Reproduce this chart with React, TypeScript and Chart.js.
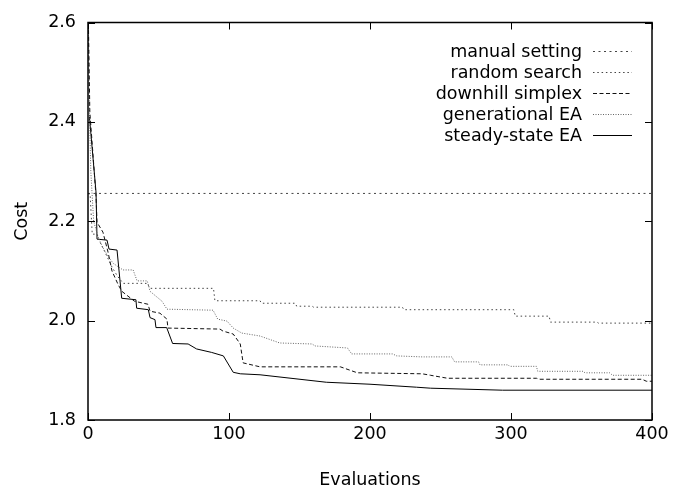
import React, { useEffect, useRef } from 'react';
import { Chart, registerables } from 'chart.js';

Chart.register(...registerables);

// ---- data ----
const xTicks = [0, 100, 200, 300, 400];
const yTicks = [1.8, 2.0, 2.2, 2.4, 2.6];
const seriesLabels = ['manual setting', 'random search', 'downhill simplex', 'generational EA', 'steady-state EA'];

const manualEvals = [0, 400];
const manualCosts = [2.256, 2.256];

const randomEvals = [0, 1.5, 3, 6.4, 8.5, 12, 17, 21, 25, 42, 44, 89, 90, 122, 123, 147, 148, 159, 160, 223, 224, 302, 303, 327, 328, 361, 362, 400];
const randomCosts = [2.256, 2.254, 2.174, 2.174, 2.158, 2.138, 2.108, 2.089, 2.075, 2.075, 2.065, 2.065, 2.04, 2.04, 2.035, 2.035, 2.029, 2.029, 2.027, 2.027, 2.022, 2.022, 2.009, 2.009, 1.997, 1.997, 1.995, 1.995];

const simplexEvals = [0, 1.3, 5.7, 6.4, 10.6, 14.2, 17, 21.3, 24, 33, 42.5, 44, 51, 56, 56.7, 93.6, 95.7, 103, 108, 110, 122, 179, 191, 237, 243, 255, 318, 320.5, 393, 396, 400];
const simplexCosts = [2.65, 2.42, 2.25, 2.198, 2.178, 2.138, 2.1, 2.073, 2.059, 2.039, 2.033, 2.019, 2.015, 2.003, 1.985, 1.983, 1.979, 1.973, 1.953, 1.915, 1.907, 1.907, 1.895, 1.893, 1.89, 1.884, 1.884, 1.882, 1.882, 1.878, 1.878];

const genEvals = [0, 0.8, 2, 4, 7, 10, 14, 18, 24.8, 32, 34.8, 42, 44, 52.5, 56, 88.7, 92, 98.6, 103, 109, 122, 136, 159, 161, 184, 187, 216, 219, 237, 258, 260, 277, 278, 298, 299, 318, 319, 351, 352.5, 370, 372, 400];
const genCosts = [2.65, 2.45, 2.3, 2.2, 2.17, 2.15, 2.13, 2.115, 2.102, 2.102, 2.08, 2.08, 2.059, 2.039, 2.023, 2.021, 2.003, 1.999, 1.985, 1.975, 1.969, 1.955, 1.953, 1.949, 1.945, 1.933, 1.933, 1.929, 1.927, 1.927, 1.917, 1.917, 1.911, 1.911, 1.908, 1.908, 1.898, 1.898, 1.895, 1.895, 1.89, 1.89];

const ssEvals = [1, 5.7, 6.4, 13.5, 14.9, 20.6, 23.9, 34, 34.5, 42.8, 44, 47.5, 48.2, 55.8, 60, 71, 77, 87.7, 96, 103, 108, 122, 169, 200, 233, 243, 294, 400];
const ssCosts = [2.41, 2.258, 2.164, 2.162, 2.144, 2.142, 2.045, 2.042, 2.025, 2.022, 2.006, 2.002, 1.986, 1.986, 1.954, 1.953, 1.943, 1.936, 1.929, 1.896, 1.893, 1.891, 1.876, 1.872, 1.866, 1.864, 1.86, 1.86];

const FONT_FAMILY = '"DejaVu Sans", sans-serif';
const FONT_SIZE = 17.5;

const toPoints = (xs: number[], ys: number[]) => xs.map((x, i) => ({ x, y: ys[i] }));

const framePlugin = {
  id: 'gnuFrame',
  afterDraw(chart: any) {
    const { ctx, chartArea } = chart;
    const { left, right, top, bottom } = chartArea;
    const xs = chart.scales.x;
    const ys = chart.scales.y;
    const tl = 7;
    ctx.save();
    ctx.strokeStyle = '#000';
    ctx.lineWidth = 1;
    ctx.setLineDash([]);
    ctx.beginPath();
    xTicks.forEach((v) => {
      const px = Math.round(xs.getPixelForValue(v)) + 0.5;
      ctx.moveTo(px, bottom);
      ctx.lineTo(px, bottom - tl);
      ctx.moveTo(px, top);
      ctx.lineTo(px, top + tl);
    });
    yTicks.forEach((v) => {
      const py = Math.round(ys.getPixelForValue(v)) + 0.5;
      ctx.moveTo(left, py);
      ctx.lineTo(left + tl, py);
      ctx.moveTo(right, py);
      ctx.lineTo(right - tl, py);
    });
    ctx.stroke();
    ctx.lineWidth = 1.5;
    ctx.strokeRect(left, top, right - left, bottom - top);

    // legend (inside the plot, top right, gnuplot style)
    const lineRight = right - 20;
    const lineLen = 39;
    const gap = 11;
    const y0 = top + 28;
    const step = 21;
    ctx.font = `${FONT_SIZE}px ${FONT_FAMILY}`;
    ctx.textAlign = 'right';
    ctx.textBaseline = 'middle';
    chart.data.datasets.forEach((ds: any, i: number) => {
      const y = Math.round(y0 + i * step);
      ctx.fillStyle = '#000';
      ctx.fillText(ds.label, lineRight - lineLen - gap, y + 1);
      ctx.strokeStyle = ds.borderColor;
      ctx.lineWidth = 1;
      ctx.setLineDash(ds.borderDash || []);
      ctx.beginPath();
      ctx.moveTo(lineRight - lineLen, y + 0.5);
      ctx.lineTo(lineRight, y + 0.5);
      ctx.stroke();
    });
    ctx.restore();
  },
};

export default function App() {
  const ref = useRef<HTMLCanvasElement | null>(null);

  useEffect(() => {
    if (!ref.current) return;
    const font = { family: FONT_FAMILY, size: FONT_SIZE };
    const mk = (label: string, xs: number[], ys: number[], color: string, dash: number[]) => ({
      label,
      data: toPoints(xs, ys),
      borderColor: color,
      borderWidth: 1,
      borderDash: dash,
      pointRadius: 0,
      fill: false,
      tension: 0,
    });
    const chart = new Chart(ref.current, {
      type: 'line',
      data: {
        datasets: [
          mk(seriesLabels[0], manualEvals, manualCosts, '#444', [2, 3.5]),
          mk(seriesLabels[1], randomEvals, randomCosts, '#444', [1.5, 2.8]),
          mk(seriesLabels[2], simplexEvals, simplexCosts, '#111', [4, 2.5]),
          mk(seriesLabels[3], genEvals, genCosts, '#666', [1, 1.5]),
          mk(seriesLabels[4], ssEvals, ssCosts, '#000', []),
        ],
      },
      options: {
        animation: false,
        responsive: false,
        devicePixelRatio: 1,
        layout: { padding: { top: 17, right: 28, bottom: 0, left: 0 } },
        plugins: { legend: { display: false }, tooltip: { enabled: false } },
        scales: {
          x: {
            type: 'linear',
            min: 0,
            max: 400,
            afterBuildTicks: (s: any) => {
              s.ticks = xTicks.map((v) => ({ value: v }));
            },
            ticks: { font, color: '#000', padding: 4, maxRotation: 0, autoSkip: false },
            grid: { display: false, drawTicks: false },
            border: { display: false },
            title: { display: true, text: 'Evaluations', font, color: '#000', padding: { top: 0, bottom: 0 } },
            afterFit: (s: any) => {
              s.height = 71;
            },
          },
          y: {
            type: 'linear',
            min: 1.8,
            max: 2.6,
            afterBuildTicks: (s: any) => {
              s.ticks = yTicks.map((v) => ({ value: v }));
            },
            ticks: {
              font,
              color: '#000',
              padding: 12,
              autoSkip: false,
              callback: (v: any) => Number(v).toFixed(1),
            },
            grid: { display: false, drawTicks: false },
            border: { display: false },
            title: { display: true, text: 'Cost', font, color: '#000', padding: { top: 12, bottom: 0 } },
            afterFit: (s: any) => {
              s.width = 88;
            },
          },
        },
      },
      plugins: [framePlugin],
    } as any);
    return () => chart.destroy();
  }, []);

  return (
    <div style={{ position: 'absolute', left: 0, top: 0, width: 680, height: 491, background: '#fff' }}>
      <canvas ref={ref} width={680} height={491} style={{ display: 'block' }} />
    </div>
  );
}
